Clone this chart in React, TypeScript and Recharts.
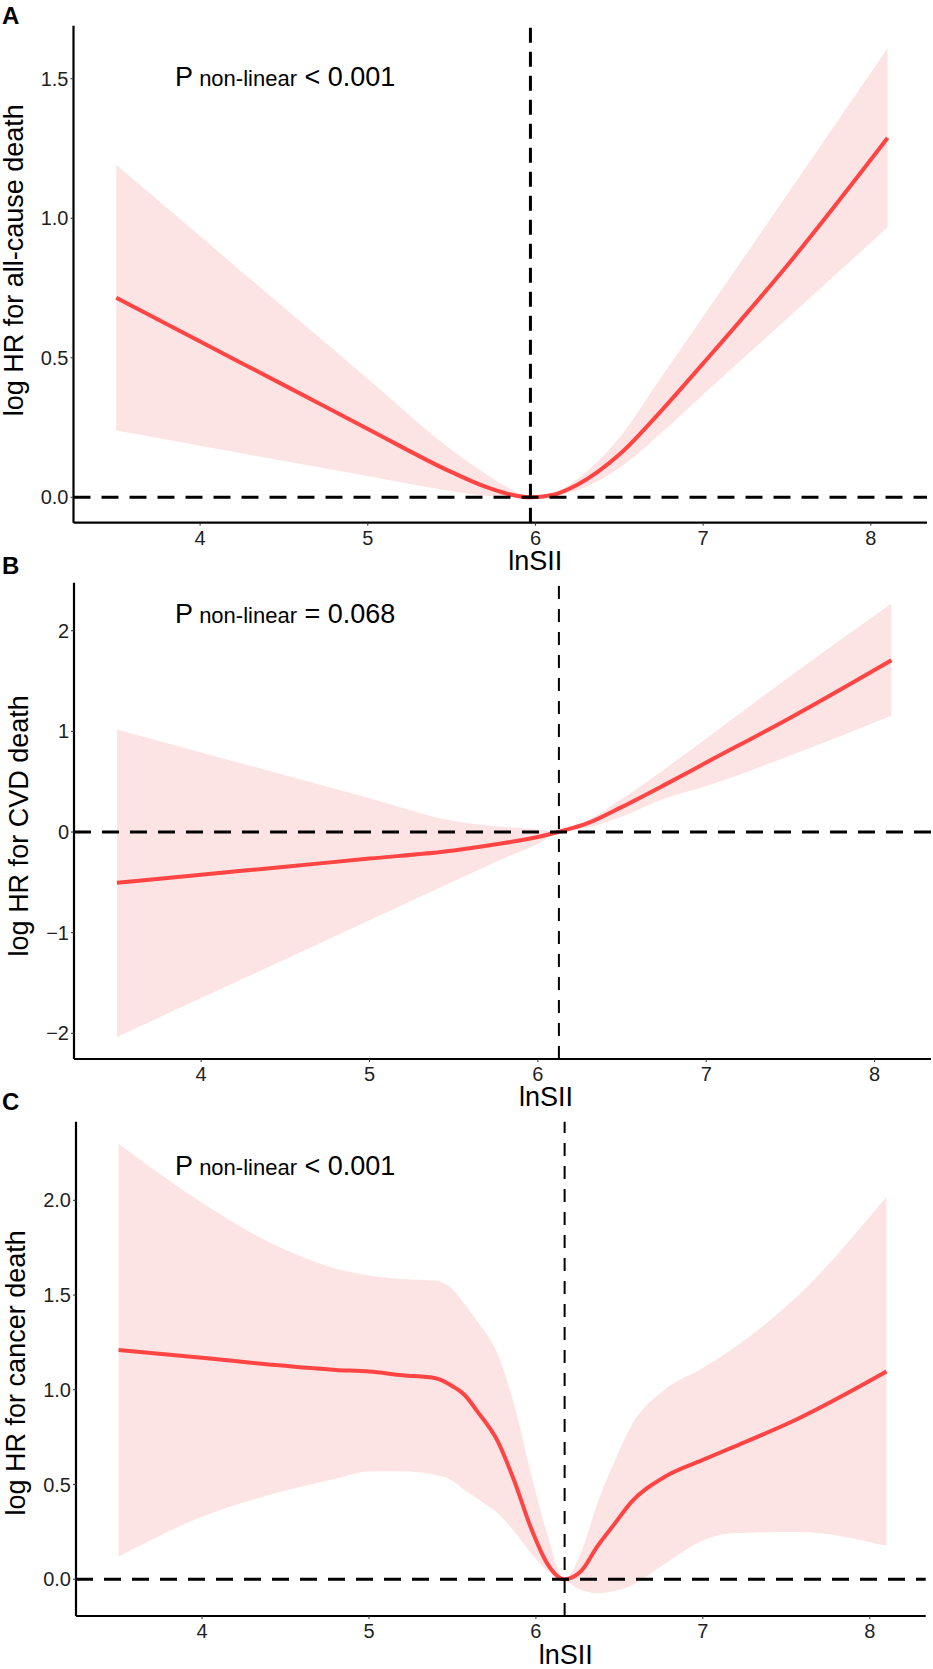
import React from "react";
import {
  Area,
  ComposedChart,
  Line,
  ReferenceLine,
  XAxis,
  YAxis,
} from "recharts";

// values (lnSII vs log HR with 95% CI)
const xTicks = [4, 5, 6, 7, 8];
const xDomain = [3.245, 8.335];

// A - all-cause death
const aX = [3.5, 4.0, 4.5, 5.0, 5.5, 5.7, 5.85, 5.97, 6.1, 6.25, 6.5, 6.75, 7.0, 7.5, 8.1];
const aFit = [0.715, 0.558, 0.402, 0.245, 0.09, 0.038, 0.01, 0, 0.008, 0.045, 0.153, 0.31, 0.48, 0.83, 1.288];
const aLow = [0.239, 0.185, 0.13, 0.076, 0.022, 0.006, 0.0, -0.002, 0.003, 0.025, 0.105, 0.23, 0.368, 0.64, 0.968];
const aUp = [1.192, 0.936, 0.68, 0.425, 0.17, 0.085, 0.03, 0.002, 0.015, 0.065, 0.213, 0.43, 0.648, 1.084, 1.609];
const aYTicks = [0, 0.5, 1, 1.5];

// B - CVD death
const bX = [3.5, 4.0, 4.5, 5.0, 5.5, 5.8, 6.0, 6.12, 6.3, 6.5, 6.75, 7.0, 7.5, 8.1];
const bFit = [-0.505, -0.425, -0.344, -0.264, -0.183, -0.11, -0.05, 0, 0.09, 0.25, 0.466, 0.69, 1.136, 1.707];
const bLow = [-2.036, -1.65, -1.263, -0.877, -0.49, -0.26, -0.12, 0, 0.046, 0.154, 0.33, 0.457, 0.76, 1.154];
const bUp = [1.018, 0.79, 0.563, 0.336, 0.11, 0.05, 0.025, 0, 0.12, 0.33, 0.62, 0.93, 1.55, 2.27];
const bYTicks = [-2, -1, 0, 1, 2];

// C - cancer death
const cX = [3.5, 4.0, 4.4, 4.8, 5.0, 5.2, 5.4, 5.5, 5.57, 5.65, 5.77, 5.87, 5.97, 6.07, 6.17, 6.27, 6.37, 6.47, 6.57, 6.77, 7.0, 7.17, 7.57, 8.1];
const cFit = [1.21, 1.169, 1.134, 1.105, 1.096, 1.077, 1.061, 1.019, 0.975, 0.885, 0.73, 0.52, 0.272, 0.08, 0, 0.042, 0.176, 0.291, 0.406, 0.54, 0.63, 0.693, 0.847, 1.096];
const cLow = [0.119, 0.33, 0.445, 0.531, 0.569, 0.57, 0.55, 0.52, 0.473, 0.425, 0.349, 0.253, 0.138, 0.042, -0.005, -0.055, -0.073, -0.062, -0.034, 0.08, 0.205, 0.243, 0.25, 0.176];
const cUp = [2.299, 1.987, 1.78, 1.64, 1.603, 1.585, 1.575, 1.53, 1.455, 1.36, 1.19, 0.92, 0.56, 0.234, 0, 0.14, 0.406, 0.62, 0.808, 1.0, 1.115, 1.211, 1.498, 2.019];
const cYTicks = [0, 0.5, 1, 1.5, 2];

const FONT = '"Liberation Sans", Arial, Helvetica, sans-serif';
const RED = "#FF4444";
const BAND = "#FDE4E4";

const toRows = (xs: number[], fit: number[], lo: number[], hi: number[]) =>
  xs.map((x, i) => ({ x, fit: fit[i], band: [lo[i], hi[i]] }));

const minus = (v: number) => (v < 0 ? "\u2212" + Math.abs(v) : String(v));

type PanelProps = {
  data: { x: number; fit: number; band: number[] }[];
  top: number;
  height: number;
  yDomain: number[];
  yTicks: number[];
  fmt: (v: number) => string;
  refX: number;
  yLabel: string;
  yWidth: number;
  mTop: number;
  mRight: number;
  xHeight: number;
  xLabelOffset: number;
  xLabelDx: number;
  yLabelDx: number;
  yLabelDy: number;
  vWidth: number;
  vDash: string;
};

const Panel = (p: PanelProps) => (
  <div style={{ position: "absolute", left: 0, top: p.top, width: 933, height: p.height }}>
    <ComposedChart
      width={933}
      height={p.height}
      data={p.data}
      margin={{ top: p.mTop, right: p.mRight, bottom: 0, left: 0 }}
    >
      <XAxis
        type="number"
        dataKey="x"
        domain={xDomain}
        ticks={xTicks}
        interval={0}
        allowDataOverflow
        height={p.xHeight}
        tickSize={3}
        tickMargin={5}
        tick={{ fontSize: 20, fill: "#1f1f1f", fontFamily: FONT }}
        tickLine={{ stroke: "#333", strokeWidth: 1 }}
        axisLine={{ stroke: "#000", strokeWidth: 2.2 }}
        label={{
          value: "lnSII",
          position: "insideBottom",
          offset: p.xLabelOffset,
          dx: p.xLabelDx,
          fontSize: 27,
          fill: "#000",
          fontFamily: FONT,
        }}
      />
      <YAxis
        type="number"
        domain={p.yDomain}
        ticks={p.yTicks}
        interval={0}
        allowDataOverflow
        width={p.yWidth}
        tickSize={3}
        tickMargin={2}
        tickFormatter={p.fmt}
        tick={{ fontSize: 20, fill: "#1f1f1f", fontFamily: FONT }}
        tickLine={{ stroke: "#333", strokeWidth: 1 }}
        axisLine={{ stroke: "#000", strokeWidth: 2.2 }}
        label={{
          value: p.yLabel,
          angle: -90,
          position: "center",
          dx: p.yLabelDx,
          dy: p.yLabelDy,
          fontSize: 27,
          fill: "#000",
          fontFamily: FONT,
        }}
      />
      <Area
        type="monotone"
        dataKey="band"
        stroke="none"
        fill={BAND}
        fillOpacity={1}
        isAnimationActive={false}
        dot={false}
        activeDot={false}
      />
      <Line
        type="monotone"
        dataKey="fit"
        stroke={RED}
        strokeWidth={4}
        dot={false}
        activeDot={false}
        isAnimationActive={false}
      />
      <ReferenceLine y={0} stroke="#000" strokeWidth={3} strokeDasharray="17 11" />
      <ReferenceLine x={p.refX} stroke="#000" strokeWidth={p.vWidth} strokeDasharray={p.vDash} />
    </ComposedChart>
  </div>
);

const Title = ({ y, rel, val }: { y: number; rel: string; val: string }) => (
  <text x={175} y={y} fontSize={27} fill="#000">
    P<tspan fontSize={22}> non-linear</tspan>
    <tspan>{" " + rel + " " + val}</tspan>
  </text>
);

export default function App() {
  return (
    <div
      style={{
        position: "absolute",
        left: 0,
        top: 0,
        width: 933,
        height: 1669,
        background: "#fff",
        fontFamily: FONT,
      }}
    >
      <Panel
        data={toRows(aX, aFit, aLow, aUp)}
        top={0}
        height={600}
        yDomain={[-0.091, 1.69]}
        yTicks={aYTicks}
        fmt={(v) => v.toFixed(1)}
        refX={5.97}
        yLabel="log HR for all-cause death"
        yWidth={73.5}
        mTop={25.7}
        mRight={6}
        xHeight={77.3}
        xLabelOffset={30}
        xLabelDx={35}
        yLabelDx={-23}
        yLabelDy={-14}
        vWidth={3}
        vDash="15 9"
      />
      <Panel
        data={toRows(bX, bFit, bLow, bUp)}
        top={540}
        height={600}
        yDomain={[-2.255, 2.477]}
        yTicks={bYTicks}
        fmt={minus}
        refX={6.125}
        yLabel="log HR for CVD death"
        yWidth={74}
        mTop={42.7}
        mRight={2}
        xHeight={81}
        xLabelOffset={34}
        xLabelDx={43.5}
        yLabelDx={-18.6}
        yLabelDy={5}
        vWidth={2}
        vDash="13 10"
      />
      <Panel
        data={toRows(cX, cFit, cLow, cUp)}
        top={1080}
        height={589}
        yDomain={[-0.194, 2.415]}
        yTicks={cYTicks}
        fmt={(v) => v.toFixed(1)}
        refX={6.172}
        yLabel="log HR for cancer death"
        yWidth={76}
        mTop={41.7}
        mRight={7.3}
        xHeight={53}
        xLabelOffset={5}
        xLabelDx={65}
        yLabelDx={-22.8}
        yLabelDy={4}
        vWidth={2}
        vDash="13 10"
      />
      <svg
        width={933}
        height={1669}
        style={{ position: "absolute", left: 0, top: 0, pointerEvents: "none" }}
        fontFamily={FONT}
      >
        <text x={2} y={24} fontSize={24} fontWeight="bold">A</text>
        <text x={2} y={574} fontSize={24} fontWeight="bold">B</text>
        <text x={2} y={1110} fontSize={24} fontWeight="bold">C</text>
        <Title y={86} rel="<" val="0.001" />
        <Title y={622.5} rel="=" val="0.068" />
        <Title y={1175} rel="<" val="0.001" />
      </svg>
    </div>
  );
}
